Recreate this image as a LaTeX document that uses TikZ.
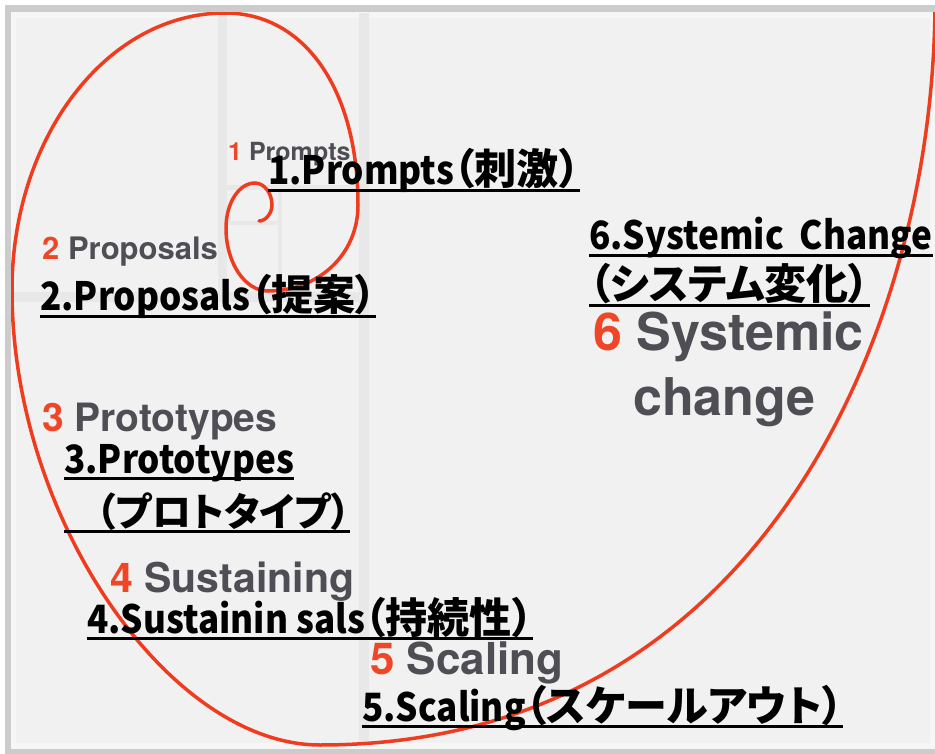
\documentclass[tikz,border=0pt]{standalone}
\usepackage{graphicx}
\usepackage{fontspec}
\setmainfont{Noto Sans CJK JP}[CharacterWidth=AlternateProportional]
\newfontfamily\engfont{texgyreheros-bold.otf}
\usepackage{tikz}
\definecolor{spiralred}{RGB}{240,60,30}
\definecolor{numred}{RGB}{240,70,40}
\definecolor{framegray}{RGB}{204,204,204}
\definecolor{paper}{RGB}{241,241,241}
\definecolor{paperlight}{RGB}{246,246,246}
\definecolor{gridgray}{RGB}{232,232,232}
\definecolor{enggray}{RGB}{78,78,84}
\newcommand\ulined[1]{\setbox0\hbox{#1}\rlap{\rule[-7pt]{\wd0}{3pt}}\box0}
\newcommand\latinpart[1]{\scalebox{0.9}[1]{\fontsize{39}{46}\selectfont #1}}
\tikzset{
    jplabel/.style={anchor=base west, inner sep=0pt, font=\bfseries\fontsize{42}{48}\selectfont},
    englabel/.style={anchor=base west, inner sep=1pt, text=enggray, font=\engfont\fontsize{#1}{#1}\selectfont},
    spiral/.style={draw=spiralred, line width=3.5pt, line cap=round},
}

\begin{document}
\begin{tikzpicture}[x=1pt,y=-1pt]
                        \useasboundingbox (0,0) rectangle (935,754);
                        \fill[white] (0,0) rectangle (935,754);
                        \fill[framegray] (5,5) rectangle (935,754);
                        \fill[paperlight] (11,12.5) rectangle (935,749);
                        \fill[paper] (16,18) rectangle (930,743);

                        \foreach \xa/\ya/\xb/\yb/\w in {364/13/364/745/10, 12/297/364/297/10, 222/13/222/297/9, 222/188/364/188/5, 280/188/280/297/4, 222/223/280/223/4} {
                            \draw[gridgray, line width=\w] (\xa,\ya) -- (\xb,\yb);
                        }

                        \node[englabel=25] (prompts) at (227,161) {\textcolor{numred}{1} Prompts};
                        \node[englabel=31] (proposals) at (41,260) {\textcolor{numred}{2} Proposals};
                        \node[englabel=39] (prototypes) at (41,431) {\textcolor{numred}{3} Prototypes};
                        \node[englabel=41] (sustaining) at (109,592) {\textcolor{numred}{4} Sustaining};
                        \node[englabel=44] (scaling) at (369,674) {\textcolor{numred}{5} Scaling};
                        \node[englabel=52] (systemic) at (592,350) {\textcolor{numred}{6} Systemic};
                        \node[englabel=52] (change) at (632,415) {change};

                        \begin{scope}
                            \clip (11,12.5) rectangle (935,749);
                            \draw[spiral] (935,0) .. controls (935,330) and (760,745) .. (320,745)
                                .. controls (170,745) and (12,520) .. (12,290)
                                .. controls (12,137) and (107,13) .. (225,13)
                                .. controls (305,13) and (358,90) .. (358,205)
                                .. controls (358,255) and (318,291) .. (268,291)
                                .. controls (245,291) and (226,263) .. (226,228)
                                .. controls (226,203) and (239,183) .. (255,183)
                                .. controls (264,183) and (272,193) .. (272,205)
                                .. controls (272,213) and (266,221) .. (259,221);
                        \end{scope}

                        \node[jplabel] (jprompts) at (268,185) {\ulined{\latinpart{1.Prompts}（刺激）}};
                        \node[jplabel] (jproposals) at (40,311) {\ulined{\latinpart{2.Proposals}（提案）}};
                        \node[jplabel] (jprototypes) at (64,473) {\ulined{\latinpart{3.Prototypes}}};
                        \node[jplabel] (jprototypesjp) at (64,526) {\ulined{\hspace*{32pt}\fontsize{39}{46}\selectfont（プロトタイプ）}};
                        \node[jplabel] (jsustaining) at (87,633) {\ulined{\latinpart{4.Sustainin sals}（持続性）}};
                        \node[jplabel] (jscaling) at (362,721) {\ulined{\latinpart{5.Scaling}（スケールアウト）}};
                        \node[jplabel] (jsystemic) at (589,250) {\ulined{\latinpart{6.Systemic\hspace{0.45em}Change}}};
                        \node[jplabel] (jsystemicjp) at (589,300) {\ulined{（システム変化）}};
                    \end{tikzpicture}
\end{document}
